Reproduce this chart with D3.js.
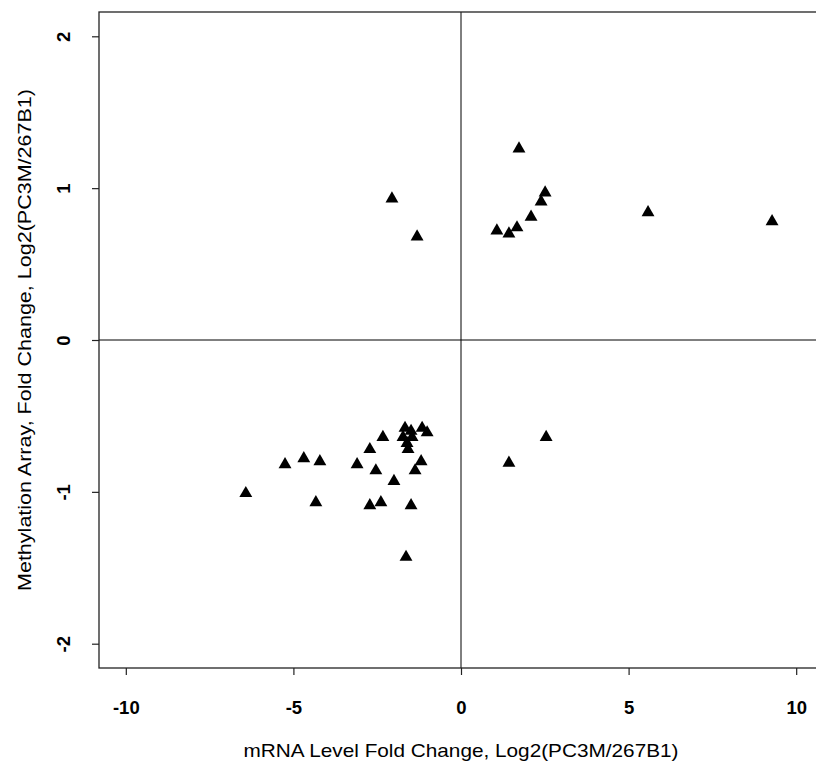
<!DOCTYPE html>
<html>
<head>
<meta charset="utf-8">
<script src="https://cdn.jsdelivr.net/npm/d3@7"></script>
<style>
  html, body { margin: 0; padding: 0; background: #fff; }
  svg { display: block; }
  text { font-family: "Liberation Sans", Arial, sans-serif; fill: #000; }
</style>
</head>
<body>
<svg id="chart" width="816" height="761"></svg>
<script>
// mRNA fold change (log2) per gene
const mrna = [
  -2.06, -1.31, 1.73, 2.51, 2.39, 2.09, 1.67, 1.43, 1.07, 5.58, 9.28,
  1.43, 2.54,
  -1.67, -1.73, -1.46, -1.61, -1.58, -1.16, -1.01, -1.49, -2.33, -2.72, -3.10,
  -2.54, -1.19, -1.37, -2.00, -2.72, -2.39, -1.49, -1.64, -6.42, -5.25, -4.69,
  -4.21, -4.33
];
// methylation array fold change (log2) per gene
const methylation = [
  0.93, 0.68, 1.26, 0.97, 0.91, 0.81, 0.74, 0.70, 0.72, 0.84, 0.78,
  -0.81, -0.64,
  -0.58, -0.64, -0.64, -0.68, -0.72, -0.58, -0.61, -0.60, -0.64, -0.72, -0.82,
  -0.86, -0.80, -0.86, -0.93, -1.09, -1.07, -1.09, -1.43, -1.01, -0.82, -0.78,
  -0.80, -1.07
];
const xTicks = [-10, -5, 0, 5, 10];
const yTicks = [-2, -1, 0, 1, 2];
const xTitle = "mRNA Level Fold Change, Log2(PC3M/267B1)";
const yTitle = "Methylation Array, Fold Change, Log2(PC3M/267B1)";

const svg = d3.select("#chart");
const x = d3.scaleLinear().domain([-10.8, 10.8]).range([99, 823]);
const y = d3.scaleLinear().domain([-2.16, 2.16]).range([668, 12]);

// zero reference lines
svg.append("line").attr("x1", x(0)).attr("x2", x(0)).attr("y1", y.range()[0]).attr("y2", y.range()[1])
  .attr("stroke", "#000").attr("stroke-width", 1);
svg.append("line").attr("x1", x.range()[0]).attr("x2", x.range()[1]).attr("y1", y(0)).attr("y2", y(0))
  .attr("stroke", "#000").attr("stroke-width", 1);

// plot box
svg.append("rect")
  .attr("x", x.range()[0]).attr("y", y.range()[1])
  .attr("width", x.range()[1] - x.range()[0]).attr("height", y.range()[0] - y.range()[1])
  .attr("fill", "none").attr("stroke", "#222").attr("stroke-width", 1.3);

// x axis
const xAxis = svg.append("g").attr("transform", `translate(0,${y.range()[0]})`)
  .call(d3.axisBottom(x).tickValues(xTicks).tickSize(7).tickPadding(26).tickFormat(d3.format("d")));
xAxis.select(".domain").remove();
xAxis.selectAll(".tick line").attr("stroke", "#222").attr("stroke-width", 1.2);
xAxis.selectAll(".tick text").attr("font-size", 18.5).attr("font-weight", "bold")
  .attr("font-family", "Liberation Sans, Arial, sans-serif").text(d => d < 0 ? "-" + Math.abs(d) : d);

// y axis
const yAxis = svg.append("g").attr("transform", `translate(${x.range()[0]},0)`)
  .call(d3.axisLeft(y).tickValues(yTicks).tickSize(7).tickFormat(""));
yAxis.select(".domain").remove();
yAxis.selectAll(".tick line").attr("stroke", "#222").attr("stroke-width", 1.2);
yAxis.selectAll(".tick").append("text")
  .attr("transform", "translate(-29,0) rotate(-90)")
  .attr("text-anchor", "middle")
  .attr("font-size", 18.5).attr("font-weight", "bold")
  .attr("fill", "#000")
  .attr("font-family", "Liberation Sans, Arial, sans-serif")
  .text(d => d < 0 ? "-" + Math.abs(d) : d);

// points
const pts = mrna.map((v, i) => ({ x: v, y: methylation[i] }));
const tri = d3.symbol().type(d3.symbolTriangle).size(72);
svg.append("g").selectAll("path").data(pts).join("path")
  .attr("transform", d => `translate(${x(d.x)},${y(d.y)})`)
  .attr("d", tri)
  .attr("fill", "#000");

// titles
svg.append("text").attr("x", 461).attr("y", 757).attr("text-anchor", "middle")
  .attr("font-size", 18.5).attr("textLength", 435).attr("lengthAdjust", "spacingAndGlyphs").text(xTitle);
svg.append("text").attr("transform", `translate(31,${y(0)}) rotate(-90)`).attr("text-anchor", "middle")
  .attr("font-size", 18.5).attr("textLength", 502).attr("lengthAdjust", "spacingAndGlyphs").text(yTitle);
</script>
</body>
</html>
